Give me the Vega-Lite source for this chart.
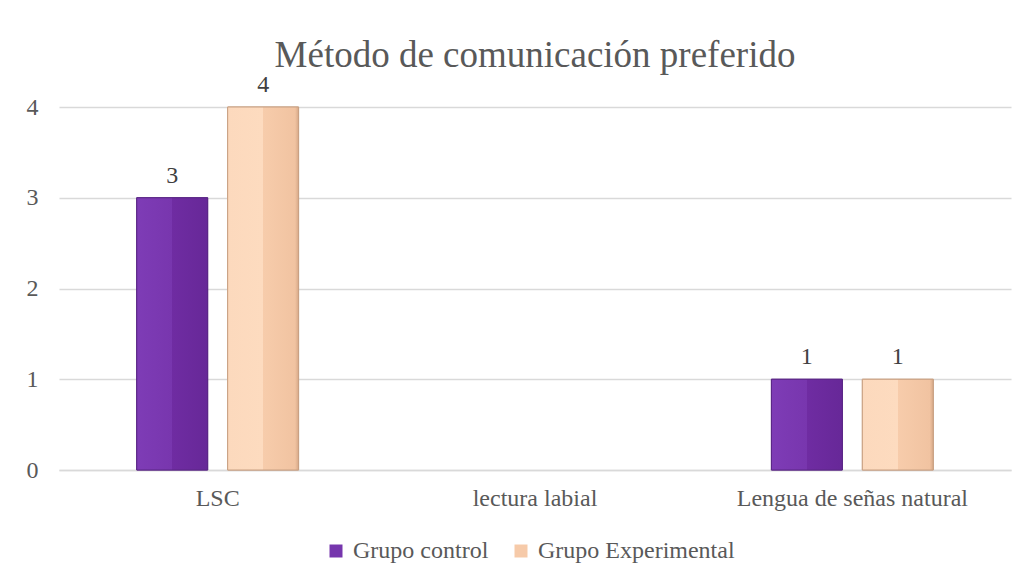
{
  "$schema": "https://vega.github.io/schema/vega-lite/v6.json",
  "autosize": "none",
  "width": 952,
  "height": 363,
  "padding": {"left": 59, "top": 107, "right": 17, "bottom": 110},
  "background": "white",
  "title": {
    "text": "Método de comunicación preferido",
    "font": "'Liberation Serif', 'DejaVu Serif', serif",
    "fontSize": 37,
    "fontWeight": "normal",
    "color": "#595959",
    "anchor": "middle",
    "offset": -2
  },
  "config": {
    "view": {"stroke": null},
    "font": "'Liberation Serif', 'DejaVu Serif', serif"
  },
  "data": {
    "values": [
      {"categoria": "LSC", "grupo": "Grupo control", "valor": 3},
      {"categoria": "LSC", "grupo": "Grupo Experimental", "valor": 4},
      {"categoria": "lectura labial", "grupo": "Grupo control", "valor": 0},
      {"categoria": "lectura labial", "grupo": "Grupo Experimental", "valor": 0},
      {"categoria": "Lengua de señas natural", "grupo": "Grupo control", "valor": 1},
      {"categoria": "Lengua de señas natural", "grupo": "Grupo Experimental", "valor": 1}
    ]
  },
  "encoding": {
    "x": {
      "field": "categoria",
      "type": "nominal",
      "sort": ["LSC", "lectura labial", "Lengua de señas natural"],
      "scale": {"domain": ["LSC", "lectura labial", "Lengua de señas natural"], "paddingInner": 0.49, "paddingOuter": 0.245},
      "axis": {
        "title": null,
        "labelAngle": 0,
        "labelLimit": 0,
        "labelFont": "'Liberation Serif', 'DejaVu Serif', serif",
        "labelFontSize": 24,
        "labelColor": "#595959",
        "labelPadding": 16,
        "ticks": false,
        "domainColor": "#d9d9d9",
        "domainWidth": 1.3
      }
    },
    "xOffset": {
      "field": "grupo",
      "type": "nominal",
      "sort": ["Grupo control", "Grupo Experimental"],
      "scale": {"domain": ["Grupo control", "Grupo Experimental"], "paddingInner": 0.22, "paddingOuter": 0}
    },
    "y": {
      "field": "valor",
      "type": "quantitative",
      "scale": {"domain": [0, 4]},
      "axis": {
        "title": null,
        "values": [0, 1, 2, 3, 4],
        "labelOverlap": false,
        "labelFont": "'Liberation Serif', 'DejaVu Serif', serif",
        "labelFontSize": 24,
        "labelColor": "#595959",
        "labelPadding": 21,
        "ticks": false,
        "domain": false,
        "gridColor": "#d9d9d9",
        "gridWidth": 1.3
      }
    }
  },
  "layer": [
    {
      "transform": [{"filter": "datum.valor > 0"}],
      "mark": {"type": "bar", "strokeWidth": 1},
      "encoding": {
        "color": {
          "field": "grupo",
          "type": "nominal",
          "sort": ["Grupo control", "Grupo Experimental"],
          "scale": {"domain": ["Grupo control", "Grupo Experimental"], "range": ["#7636ad", "#f6caa9"]},
          "legend": {
            "title": null,
            "orient": "none",
            "direction": "horizontal",
            "legendX": 265,
            "legendY": 432,
            "symbolType": "square",
            "symbolSize": 169,
            "symbolStrokeWidth": 0,
            "labelLimit": 0,
            "labelFont": "'Liberation Serif', 'DejaVu Serif', serif",
            "labelFontSize": 24,
            "labelColor": "#595959",
            "labelOffset": 5,
            "columnPadding": 20
          }
        },
        "stroke": {
          "field": "grupo",
          "type": "nominal",
          "sort": ["Grupo control", "Grupo Experimental"],
          "scale": {"domain": ["Grupo control", "Grupo Experimental"], "range": ["#5a2685", "#c8a083"]},
          "legend": null
        }
      }
    },
    {
      "transform": [{"filter": "datum.valor > 0 && datum.grupo == 'Grupo control'"}],
      "mark": {
        "type": "bar",
        "stroke": "#5a2685",
        "strokeWidth": 1,
        "color": {
          "gradient": "linear",
          "x1": 0, "x2": 1, "y1": 0, "y2": 0,
          "stops": [
            {"offset": 0, "color": "#7e3cb6"},
            {"offset": 0.5, "color": "#7836ae"},
            {"offset": 0.5, "color": "#6f2ca2"},
            {"offset": 1, "color": "#672898"}
          ]
        }
      },
      "encoding": {}
    },
    {
      "transform": [{"filter": "datum.valor > 0 && datum.grupo == 'Grupo Experimental'"}],
      "mark": {
        "type": "bar",
        "stroke": "#c8a083",
        "strokeWidth": 1,
        "color": {
          "gradient": "linear",
          "x1": 0, "x2": 1, "y1": 0, "y2": 0,
          "stops": [
            {"offset": 0, "color": "#fcd9bd"},
            {"offset": 0.5, "color": "#fddbbf"},
            {"offset": 0.5, "color": "#f7ccab"},
            {"offset": 0.95, "color": "#f1c3a1"},
            {"offset": 1, "color": "#d7a988"}
          ]
        }
      },
      "encoding": {}
    },
    {
      "transform": [{"filter": "datum.valor > 0"}],
      "mark": {
        "type": "text",
        "baseline": "bottom",
        "dy": -10,
        "font": "'Liberation Serif', 'DejaVu Serif', serif",
        "fontSize": 24,
        "color": "#404040"
      },
      "encoding": {
        "text": {"field": "valor", "type": "quantitative"}
      }
    }
  ]
}
